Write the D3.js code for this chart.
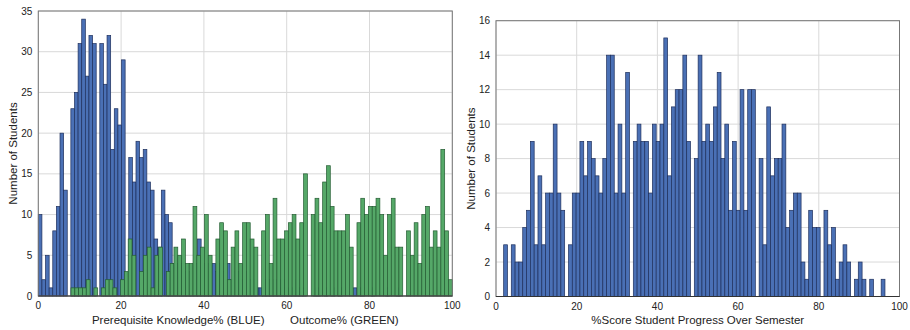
<!DOCTYPE html>
<html>
<head>
<meta charset="utf-8">
<script src="https://cdn.jsdelivr.net/npm/d3@7"></script>
<style>
  body { margin: 0; background: #fff; }
  svg { font-family: "Liberation Sans", Arial, sans-serif; }
</style>
</head>
<body>
<svg id="chart" width="910" height="330"></svg>
<script>
// left panel: two histograms (100 bins each), green drawn over blue
const prereqStart = 0, prereqBinWidth = 0.874;
const prereqCounts = [
  10, 2, 5, 1, 8, 11, 20, 13, 0, 23, 25, 31, 34, 27, 32, 31, 0, 31, 26, 32,
  18, 23, 21, 29, 0, 17, 14, 19, 17, 18, 14, 13, 7, 6, 13, 10, 9, 4, 4, 4,
  3, 3, 3, 4, 7, 4, 4, 3, 4, 3, 4, 3, 4, 2, 3, 3, 2, 3, 2, 2,
  1, 1, 2, 2, 2, 2, 1, 2, 1, 1, 1, 2, 1, 1, 0, 0, 1, 1, 0, 1,
  0, 1, 0, 1, 0, 0, 0, 1, 0, 1, 0, 0, 1, 0, 0, 0, 1, 0, 0, 1
];
const outcomeStart = 7.9, outcomeBinWidth = 0.921;
const outcomeCounts = [
  1, 1, 1, 1, 2, 0, 1, 0, 1, 2, 2, 1, 0, 2, 3, 7, 5, 0, 3, 5,
  6, 1, 5, 6, 0, 3, 4, 6, 5, 7, 4, 4, 11, 5, 6, 10, 5, 0, 7, 9,
  8, 2, 6, 8, 4, 9, 9, 7, 6, 0, 8, 10, 4, 12, 7, 7, 8, 9, 10, 7,
  9, 15, 0, 10, 12, 9, 14, 16, 11, 8, 8, 8, 10, 6, 0, 9, 12, 10, 11, 11,
  12, 10, 5, 10, 12, 6, 6, 0, 8, 5, 9, 4, 10, 11, 6, 8, 6, 18, 8, 2
];
const leftYTicks = [0, 5, 10, 15, 20, 25, 30, 35];
const leftXTicks = [0, 20, 40, 60, 80, 100];

// right panel
const progressStart = 1.9, progressBinWidth = 0.945;
const progressCounts = [
  3, 0, 3, 2, 2, 4, 5, 9, 3, 7, 3, 6, 6, 10, 6, 5, 0, 3, 6, 6,
  9, 7, 9, 8, 7, 6, 8, 14, 14, 6, 10, 6, 13, 0, 9, 10, 9, 9, 6, 10,
  9, 10, 15, 7, 11, 12, 12, 14, 9, 0, 8, 14, 9, 10, 9, 11, 13, 8, 10, 5,
  9, 5, 12, 5, 12, 12, 0, 8, 3, 11, 7, 8, 8, 10, 4, 5, 6, 6, 2, 1,
  5, 4, 4, 0, 5, 3, 4, 1, 2, 3, 2, 0, 1, 2, 1, 0, 1, 0, 0, 1
];
const rightYTicks = [0, 2, 4, 6, 8, 10, 12, 14, 16];
const rightXTicks = [0, 20, 40, 60, 80, 100];

const svg = d3.select("#chart");

function panel(opts) {
  const x = d3.scaleLinear().domain([0, 100]).range([opts.left, opts.right]);
  const y = d3.scaleLinear().domain([0, opts.yMax]).range([opts.bottom, opts.top]);
  const g = svg.append("g");

  // grid
  g.append("g").selectAll("line").data(opts.yTicks).enter().append("line")
    .attr("x1", opts.left).attr("x2", opts.right)
    .attr("y1", d => y(d)).attr("y2", d => y(d))
    .attr("stroke", "#d9d9d9").attr("stroke-width", 1);
  g.append("g").selectAll("line").data(opts.xTicks).enter().append("line")
    .attr("y1", opts.top).attr("y2", opts.bottom)
    .attr("x1", d => x(d)).attr("x2", d => x(d))
    .attr("stroke", "#d9d9d9").attr("stroke-width", 1);

  // bars
  opts.series.forEach(s => {
    g.append("g").selectAll("rect")
      .data(s.counts.map((c, i) => ({c, i})).filter(d => d.c > 0))
      .enter().append("rect")
      .attr("x", d => x(s.start + d.i * s.width))
      .attr("width", d => x(s.start + (d.i + 1) * s.width) - x(s.start + d.i * s.width))
      .attr("y", d => y(d.c))
      .attr("height", d => y(0) - y(d.c))
      .attr("fill", s.fill)
      .attr("stroke", s.edge)
      .attr("stroke-width", 0.7);
  });

  // frame
  g.append("rect")
    .attr("x", opts.left).attr("y", opts.top)
    .attr("width", opts.right - opts.left).attr("height", opts.bottom - opts.top)
    .attr("fill", "none").attr("stroke", "#777").attr("stroke-width", 1);
  g.append("line")
    .attr("x1", opts.left).attr("x2", opts.right)
    .attr("y1", opts.bottom).attr("y2", opts.bottom)
    .attr("stroke", "#333").attr("stroke-width", 1);

  // tick labels
  g.append("g").selectAll("text").data(opts.yTicks).enter().append("text")
    .attr("x", opts.left - 6).attr("y", d => y(d) + 3.5)
    .attr("text-anchor", "end").attr("font-size", 10).attr("fill", "#222")
    .text(d => d);
  g.append("g").selectAll("text").data(opts.xTicks).enter().append("text")
    .attr("x", d => x(d)).attr("y", opts.bottom + 13)
    .attr("text-anchor", "middle").attr("font-size", 10).attr("fill", "#222")
    .text(d => d);

  // axis titles
  g.append("text")
    .attr("transform", `translate(${opts.yLabelX},${(opts.top + opts.bottom) / 2}) rotate(-90)`)
    .attr("text-anchor", "middle").attr("font-size", 11.5).attr("fill", "#222")
    .text("Number of Students");
  g.append("text")
    .attr("x", (opts.left + opts.right) / 2).attr("y", 324)
    .attr("text-anchor", "middle").attr("font-size", 11.5).attr("fill", "#222")
    .style("white-space", "pre")
    .text(opts.xLabel);
}

panel({
  left: 38.3, right: 452.3, top: 11, bottom: 296, yMax: 35,
  yTicks: leftYTicks, xTicks: leftXTicks, yLabelX: 17,
  xLabel: "Prerequisite Knowledge% (BLUE)        Outcome% (GREEN)",
  series: [
    {counts: prereqCounts, start: prereqStart, width: prereqBinWidth, fill: "#4a70b5", edge: "#1e2f5c"},
    {counts: outcomeCounts, start: outcomeStart, width: outcomeBinWidth, fill: "#55a868", edge: "#245c32"}
  ]
});

panel({
  left: 496, right: 899.5, top: 20.7, bottom: 296.5, yMax: 16,
  yTicks: rightYTicks, xTicks: rightXTicks, yLabelX: 475,
  xLabel: "%Score Student Progress Over Semester",
  series: [
    {counts: progressCounts, start: progressStart, width: progressBinWidth, fill: "#4a70b5", edge: "#1e2f5c"}
  ]
});
</script>
</body>
</html>
